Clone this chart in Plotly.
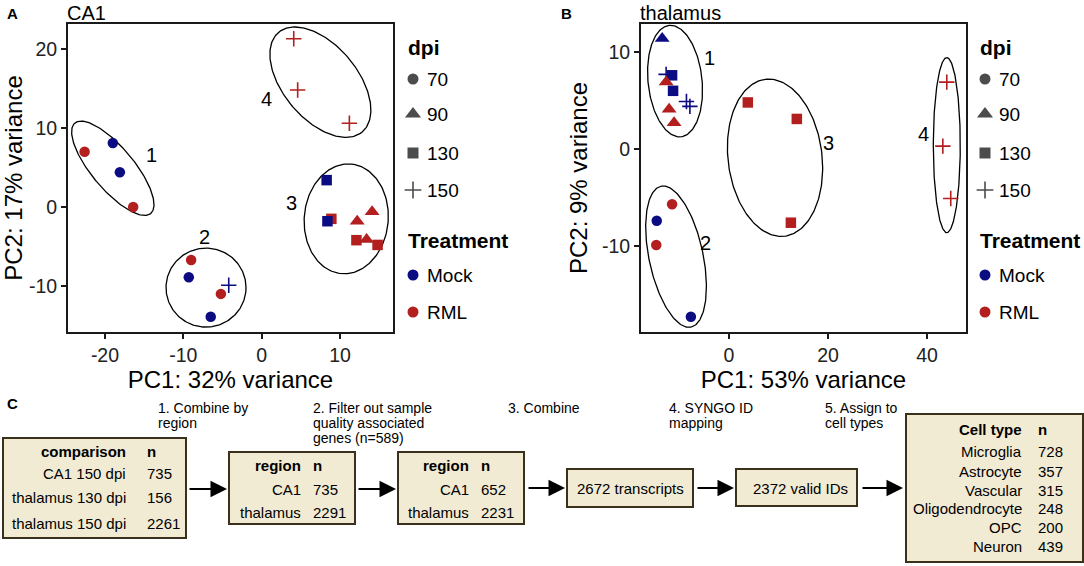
import numpy as np
import plotly.graph_objects as go

W, H = 1084, 566
FONT = "Liberation Sans, Arial, Helvetica, sans-serif"

# ---------------- data: panel A (CA1) ----------------
a_pc1 = [-22.6, -19.0, -18.1, -16.4, -9.0, -9.3, -4.2, -5.2, -6.5, 4.1, 4.6, 11.2,
         8.3, 8.9, 8.4, 12.2, 14.1, 12.1, 13.4, 14.8]
a_pc2 = [7.0, 8.1, 4.4, 0.0, -6.7, -8.9, -9.9, -11.0, -13.9, 21.3, 14.8, 10.6,
         3.4, -1.5, -1.8, -1.8, -0.6, -4.2, -4.1, -4.8]
a_dpi = [70, 70, 70, 70, 70, 70, 150, 70, 70, 150, 150, 150,
         130, 130, 130, 90, 90, 130, 90, 130]
a_treat = ["RML", "Mock", "Mock", "RML", "RML", "Mock", "Mock", "RML", "Mock", "RML", "RML", "RML",
           "Mock", "RML", "Mock", "RML", "RML", "RML", "RML", "RML"]

# ---------------- data: panel B (thalamus) ----------------
b_pc1 = [-13.5, -12.7, -11.5, -12.7, -11.3, -8.6, -7.9, -12.1, -11.1, 3.8, 13.7,
         -11.5, -14.6, -14.7, -7.7, 12.5, 44.0, 43.2, 44.8]
b_pc2 = [11.4, 7.7, 7.6, 6.9, 6.0, 4.9, 4.4, 4.1, 2.7, 4.8, 3.1,
         -5.7, -7.4, -9.9, -17.3, -7.6, 6.9, 0.3, -5.1]
b_dpi = [90, 150, 130, 90, 130, 150, 150, 90, 90, 130, 130,
         70, 70, 70, 70, 130, 150, 150, 150]
b_treat = ["Mock", "Mock", "Mock", "RML", "Mock", "Mock", "Mock", "RML", "RML", "RML", "RML",
           "RML", "Mock", "RML", "Mock", "RML", "RML", "RML", "RML"]

# cluster ellipses (centre in data units, semi-axes in px, screen angle in degrees)
a_ell_cx = [-19.0, -7.1, 10.8, 7.5]
a_ell_cy = [4.9, -10.2, -1.5, 15.8]
a_ell_a = [59, 40, 55, 65]
a_ell_b = [21, 39.5, 42, 37]
a_ell_ang = [-50, 0, 85, -50]
a_lab_x = [-14.0, -7.3, 3.8, 0.6]
a_lab_y = [6.6, -3.8, 0.5, 13.7]

b_ell_cx = [-10.9, -10.7, 9.3, 44.0]
b_ell_cy = [7.0, -11.1, -0.9, 0.4]
b_ell_a = [56, 72, 79, 87.5]
b_ell_b = [27, 27, 47, 13.5]
b_ell_ang = [96, 102, 97, 90]
b_lab_x = [-4.0, -4.8, 20.0, 39.2]
b_lab_y = [9.4, -9.7, 0.6, 1.5]
cluster_labels = ["1", "2", "3", "4"]

dpi_levels = [70, 90, 130, 150]
treat_levels = ["Mock", "RML"]

a_xticks = [-20, -10, 0, 10]
a_yticks = [-10, 0, 10, 20]
b_xticks = [0, 20, 40]
b_yticks = [-10, 0, 10]

# ---------------- data: panel C ----------------
step_texts = [["1. Combine by", "region"],
              ["2. Filter out sample", "quality associated", "genes (n=589)"],
              ["3. Combine"],
              ["4. SYNGO ID", "mapping"],
              ["5. Assign to", "cell types"]]
comparison_names = ["CA1 150 dpi", "thalamus 130 dpi", "thalamus 150 dpi"]
comparison_n = [735, 156, 2261]
region_names = ["CA1", "thalamus"]
region_n_combined = [735, 2291]
region_n_filtered = [652, 2231]
n_transcripts = 2672
n_valid_ids = 2372
cell_types = ["Microglia", "Astrocyte", "Vascular", "Oligodendrocyte", "OPC", "Neuron"]
cell_n = [728, 357, 315, 248, 200, 439]

# ---------------- styles ----------------
sym_map = {70: "circle", 90: "triangle-up", 130: "square", 150: "cross-thin"}
size_map = {70: 10.5, 90: 13, 130: 10.5, 150: 11}
col_map = {"Mock": "#0c0c82", "RML": "#b31e1e"}

A_dom_x = [68 / W, 393 / W]
A_dom_y = [1 - 332 / H, 1 - 24 / H]
A_rx = [-24.72, 16.77]
A_ry = [-15.82, 23.16]
B_dom_x = [641 / W, 966 / W]
B_dom_y = [1 - 332 / H, 1 - 24 / H]
B_rx = [-17.78, 47.88]
B_ry = [-18.87, 12.89]

fig = go.Figure()


def add_points(xs, ys, dpis, treats, xa, ya):
    cols = [col_map[t] for t in treats]
    fig.add_trace(go.Scatter(
        x=xs, y=ys, mode="markers", xaxis=xa, yaxis=ya, showlegend=False,
        marker=dict(symbol=[sym_map[d] for d in dpis],
                    size=[size_map[d] for d in dpis],
                    color=cols, opacity=1,
                    line=dict(color=cols, width=[1.6 if d == 150 else 0 for d in dpis])),
        hoverinfo="x+y"))


def add_ellipses(cx, cy, aa, bb, ang, dom_x, dom_y, rx, ry, xa, ya):
    ppx = (dom_x[1] - dom_x[0]) * W / (rx[1] - rx[0])
    ppy = (dom_y[1] - dom_y[0]) * H / (ry[1] - ry[0])
    t = np.linspace(0, 2 * np.pi, 200)
    for i in range(len(cx)):
        th = np.deg2rad(ang[i])
        px = aa[i] * np.cos(th) * np.cos(t) - bb[i] * np.sin(th) * np.sin(t)
        py = aa[i] * np.sin(th) * np.cos(t) + bb[i] * np.cos(th) * np.sin(t)
        fig.add_trace(go.Scatter(x=cx[i] + px / ppx, y=cy[i] + py / ppy, mode="lines",
                                 xaxis=xa, yaxis=ya, showlegend=False, hoverinfo="skip",
                                 line=dict(color="black", width=1.3)))


add_ellipses(a_ell_cx, a_ell_cy, a_ell_a, a_ell_b, a_ell_ang, A_dom_x, A_dom_y, A_rx, A_ry, "x", "y")
add_ellipses(b_ell_cx, b_ell_cy, b_ell_a, b_ell_b, b_ell_ang, B_dom_x, B_dom_y, B_rx, B_ry, "x2", "y2")
add_points(a_pc1, a_pc2, a_dpi, a_treat, "x", "y")
add_points(b_pc1, b_pc2, b_dpi, b_treat, "x2", "y2")

ann = []
for i, lab in enumerate(cluster_labels):
    ann.append(dict(x=a_lab_x[i], y=a_lab_y[i], xref="x", yref="y", text=lab, showarrow=False,
                    font=dict(size=20, color="black", family=FONT)))
    ann.append(dict(x=b_lab_x[i], y=b_lab_y[i], xref="x2", yref="y2", text=lab, showarrow=False,
                    font=dict(size=20, color="black", family=FONT)))

# ---------------- legends (overlay pixel axes x3/y3) ----------------
leg_y_dpi = [79, 114, 153, 190]
leg_y_trt = [275, 312]
for lx in [413, 985]:
    fig.add_trace(go.Scatter(
        x=[lx] * 4, y=leg_y_dpi, mode="markers", xaxis="x3", yaxis="y3", showlegend=False,
        hoverinfo="skip",
        marker=dict(symbol=[sym_map[d] for d in dpi_levels], size=[11, 14, 11, 12],
                    color="black", line=dict(color="black", width=[0, 0, 0, 1.6]))))
    fig.add_trace(go.Scatter(
        x=[lx] * 2, y=leg_y_trt, mode="markers", xaxis="x3", yaxis="y3", showlegend=False,
        hoverinfo="skip",
        marker=dict(symbol="circle", size=11, color=[col_map[t] for t in treat_levels])))
    tx = lx - 7
    ann.append(dict(x=tx, y=47, xref="x3", yref="y3", text="<b>dpi</b>", showarrow=False,
                    xanchor="left", font=dict(size=21, color="black", family=FONT)))
    ann.append(dict(x=tx, y=240, xref="x3", yref="y3", text="<b>Treatment</b>", showarrow=False,
                    xanchor="left", font=dict(size=21, color="black", family=FONT)))
    for d, yy in zip(dpi_levels, leg_y_dpi):
        ann.append(dict(x=lx + 12, y=yy, xref="x3", yref="y3", text=str(d), showarrow=False,
                        xanchor="left", font=dict(size=19, color="black", family=FONT)))
    for t, yy in zip(treat_levels, leg_y_trt):
        ann.append(dict(x=lx + 12, y=yy, xref="x3", yref="y3", text=t, showarrow=False,
                        xanchor="left", font=dict(size=19, color="black", family=FONT)))

# panel letters and titles
for txt, x, y in [("A", 12, 13), ("B", 566, 13), ("C", 12, 403)]:
    ann.append(dict(x=x, y=y, xref="x3", yref="y3", text="<b>%s</b>" % txt, showarrow=False,
                    font=dict(size=15, color="black", family=FONT)))
for txt, x in [("CA1", 65), ("thalamus", 638)]:
    ann.append(dict(x=x, y=13, xref="x3", yref="y3", text=txt, showarrow=False, xanchor="left",
                    font=dict(size=20, color="black", family=FONT)))

# ---------------- panel C ----------------
shapes = []
BOX_FILL = "#f2ebd4"
BOX_LINE = "#3b301c"
boxes = [(3, 438, 186, 538), (229, 452, 355, 524), (398, 452, 524, 524),
         (567, 469, 693, 507), (736, 469, 857, 506), (906, 414, 1083, 562)]
for (x0, y0, x1, y1) in boxes:
    shapes.append(dict(type="rect", xref="x3", yref="y3", x0=x0, y0=y0, x1=x1, y1=y1,
                       fillcolor=BOX_FILL, line=dict(color=BOX_LINE, width=2), layer="below"))

step_x = [156, 311, 506, 667, 823]
for sx, lines in zip(step_x, step_texts):
    for j, ln in enumerate(lines):
        ann.append(dict(x=sx, y=408 + 15 * j, xref="x3", yref="y3", text=ln, showarrow=False,
                        xanchor="left", font=dict(size=14, color="black", family=FONT)))

arrows = [(188, 227, 489), (357, 396, 489), (527, 565, 488), (696, 734, 488), (861, 903, 488)]
for (xa0, xa1, ya) in arrows:
    ann.append(dict(x=xa1, y=ya, ax=xa0, ay=ya, xref="x3", yref="y3", axref="x3", ayref="y3",
                    text="", showarrow=True, arrowhead=2, arrowsize=1.5, arrowwidth=2.2,
                    arrowcolor="black", standoff=0, startstandoff=0))

F15 = dict(size=15, color="black", family=FONT)


def table(names, vals, header, name_right, val_left, header_y, row_ys):
    ann.append(dict(x=name_right, y=header_y, xref="x3", yref="y3", text="<b>%s</b>" % header,
                    showarrow=False, xanchor="right", font=F15))
    ann.append(dict(x=val_left, y=header_y, xref="x3", yref="y3", text="<b>n</b>",
                    showarrow=False, xanchor="left", font=F15))
    for nm, v, yy in zip(names, vals, row_ys):
        ann.append(dict(x=name_right, y=yy, xref="x3", yref="y3", text=nm,
                        showarrow=False, xanchor="right", font=F15))
        ann.append(dict(x=val_left, y=yy, xref="x3", yref="y3", text=str(v),
                        showarrow=False, xanchor="left", font=F15))


table(comparison_names, comparison_n, "comparison", 128, 145, 451, [473, 497, 523])
table(region_names, region_n_combined, "region", 303, 311, 465, [489, 512])
table(region_names, region_n_filtered, "region", 471, 479, 465, [489, 512])
table(cell_types, cell_n, "Cell type", 1024, 1036, 429, [451, 471, 490, 508, 527, 546])
ann.append(dict(x=630, y=488, xref="x3", yref="y3", text="%d transcripts" % n_transcripts,
                showarrow=False, font=F15))
ann.append(dict(x=800, y=488, xref="x3", yref="y3", text="%d valid IDs" % n_valid_ids,
                showarrow=False, font=F15))

# ---------------- axes ----------------
def axis_common(dom, rng, tv, title, standoff):
    return dict(domain=dom, range=rng, tickvals=tv, ticktext=[str(v) for v in tv],
                showgrid=False, zeroline=False, showline=True, mirror=True,
                linecolor="#1a1a1a", linewidth=2, ticks="outside", ticklen=5, tickwidth=1.5,
                tickcolor="#1a1a1a", tickfont=dict(size=19.5, color="#222", family=FONT),
                title=dict(text=title, font=dict(size=24, color="black", family=FONT),
                           standoff=standoff),
                fixedrange=True)


fig.update_layout(
    width=W, height=H, margin=dict(l=0, r=0, t=0, b=0),
    paper_bgcolor="white", plot_bgcolor="rgba(0,0,0,0)",
    font=dict(family=FONT),
    xaxis=dict(anchor="y", **axis_common(A_dom_x, A_rx, a_xticks, "PC1: 32% variance", 1)),
    yaxis=dict(anchor="x", **axis_common(A_dom_y, A_ry, a_yticks, "PC2: 17% variance", 8)),
    xaxis2=dict(anchor="y2", **axis_common(B_dom_x, B_rx, b_xticks, "PC1: 53% variance", 1)),
    yaxis2=dict(anchor="x2", **axis_common(B_dom_y, B_ry, b_yticks, "PC2: 9% variance", 8)),
    xaxis3=dict(domain=[0, 1], range=[0, W], visible=False, anchor="y3", fixedrange=True),
    yaxis3=dict(domain=[0, 1], range=[H, 0], visible=False, anchor="x3", fixedrange=True),
    annotations=ann, shapes=shapes, showlegend=False,
)

fig.write_html("out.html", config={"displayModeBar": False},
               post_script="document.body.style.margin='0';")
